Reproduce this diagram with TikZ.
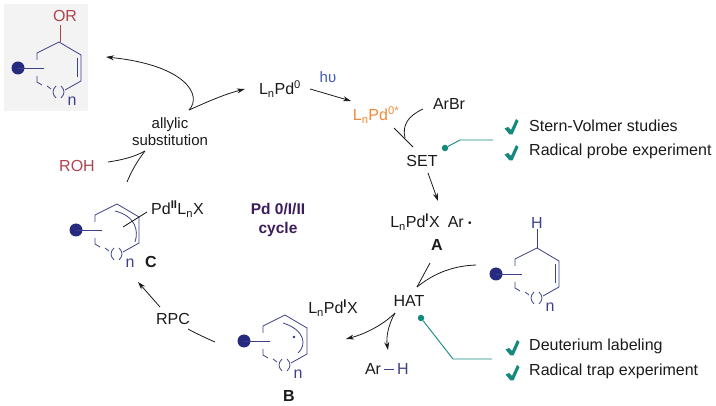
\documentclass[tikz,border=0pt]{standalone}
\usepackage{fontspec}
\setmainfont{Liberation Sans}
\usepackage{xcolor}
\usetikzlibrary{arrows.meta, positioning, calc}
\definecolor{CInk}{HTML}{1A1A1A}
\definecolor{CRing}{HTML}{3D4088}
\definecolor{CDot}{HTML}{262B80}
\definecolor{CRed}{HTML}{AE4450}
\definecolor{COrange}{HTML}{F0893A}
\definecolor{CBlue}{HTML}{4058BE}
\definecolor{CTeal}{HTML}{16897F}
\definecolor{CPurple}{HTML}{3C1C5E}
\definecolor{CPanel}{HTML}{F3F3F3}
\newcommand{\lnpd}{L\textsubscript{n}Pd}
\newcommand{\ox}[1]{\textsuperscript{\textbf{#1}}}

\begin{document}
\begin{tikzpicture}[
  x=1pt, y=-1pt,
  font=\fontsize{16}{19}\selectfont,
  lbl/.style={text=CInk, inner sep=0pt},
  tag/.style={lbl, font=\fontsize{16}{19}\selectfont\bfseries},
  chem/.style={lbl, text=CRing},
  bond/.style={draw=CRing, line width=0.8pt},
  flow/.style={-{Stealth[length=8pt,width=5pt]}, draw=CInk, line width=0.8pt},
  merge/.style={draw=CInk, line width=0.8pt},
  probe/.style={draw=CTeal, line width=0.9pt},
  probedot/.style={circle, fill=CTeal, inner sep=0pt, minimum size=6.5pt},
  pics/ringbase/.style={code={
    \fill[CDot] (0,0) circle (6.5);
    \draw[bond] (0,0) -- (26,0);
    \draw[bond] (19,-8) -- (19,-15) -- (41,-26) -- (63,-13) -- (63,13) -- (47,22);
    \draw[bond] (19,8) -- (19,14) -- (24,17);
    \draw[bond] (29,18) -- (33,21);
    \draw[bond] (38,18) .. controls (34,22) and (34,26) .. (38,30);
    \draw[bond] (43,18) .. controls (47,22) and (47,26) .. (43,30);
    \node[chem] (-n) at (54,33) {n};
  }},
  pics/tick/.style={code={
    \fill[CTeal] (-7.5,1.5) -- (-4,0) -- (-1,3) -- (4,-8) -- (6.5,-6) -- (0.5,7.5) -- (-2.5,7.5) -- cycle;
  }},
]
\useasboundingbox (0,0) rectangle (716,406);

% product panel
\fill[CPanel] (4,4) rectangle (88,111);
\pic (prod) at (18,68) {ringbase};
\draw[bond] (77,58) -- (77,77);
\node[lbl, text=CRed] (or) at (65,16) {OR};
\draw[draw=CRed, line width=0.8pt] (60,25) -- (60,42);

% palladium species on the cycle
\node[lbl] (pd0) at (280,89) {\lnpd\textsuperscript{0}};
\node[lbl, text=CBlue, font=\fontsize{15}{17}\selectfont] (hv) at (328,77) {hυ};
\node[lbl, text=COrange] (pdstar) at (376,115) {\lnpd\textsuperscript{0*}};
\node[lbl] (arbr) at (449,104) {ArBr};
\node[lbl] (set) at (422,161) {SET};
\node[lbl] (pda) at (431,222) {\lnpd\ox{I}X\hspace{8pt}Ar \raisebox{1.5pt}{\fontsize{10}{10}\selectfont\textbullet}};
\node[tag] (a) at (437,245) {A};
\node[lbl] (hat) at (409,301) {HAT};
\node[lbl] (pdb) at (333,308) {\lnpd\ox{I}X};
\node[lbl] (arh) at (373,369) {Ar};
\node[chem] (h) at (403,369) {H};
\draw[bond] (arh.east) ++(3,0) -- ([xshift=-3pt]h.west);
\node[lbl, align=center, font=\fontsize{15}{17}\selectfont] (allyl) at (170,131.5) {allylic\\substitution};
\node[lbl, text=CRed] (roh) at (77,166) {ROH};
\node[lbl, align=center, text=CPurple, font=\fontsize{15.5}{19}\selectfont\bfseries] (cyc) at (278,219.5) {Pd 0/I/II\\cycle};
\node[lbl] (rpc) at (173,319) {RPC};

% substrate
\pic (sub) at (496,274) {ringbase};
\draw[bond] (555,264) -- (555,283);
\node[chem] (subh) at (537,223) {H};
\draw[bond] (subh.south) -- (537,248);

% radical B
\pic (ringb) at (244,341) {ringbase};
\draw[bond] (283,323) .. controls (305,330) and (307,345) .. (298,353);
\fill[CDot] (294,337) circle (1.4);
\node[tag] (b) at (289,396) {B};

% complex C
\pic (ringc) at (76,230) {ringbase};
\draw[bond] (115,211) .. controls (135,216) and (139,230) .. (135,242);
\draw[merge] (123,227) -- (147,212);
\node[lbl, anchor=west] (pdc) at (151,209) {Pd\ox{II}L\textsubscript{n}X};
\node[tag] (c) at (151,262) {C};

% junctions of the arrows
\coordinate (jallyl) at (189,110);
\coordinate (jset) at (405,138);
\coordinate (jhat) at (417,287);
\coordinate (jsub) at (145,151);
\coordinate (jb) at (395,313);

% arrows round the cycle
\draw[flow] (jallyl) .. controls (203,95) and (185,65) .. (106,57);
\draw[flow] (jallyl) .. controls (205,103) and (222,95) .. ([xshift=-14pt]pd0.west);
\draw[flow] ([xshift=9pt]pd0.east) -- (351,101);
\draw[merge] (394,128) -- (413,147);
\draw[merge] (423,109) .. controls (408,116) and (402,125) .. (jset);
\draw[flow] (428,173) -- (438,201);
\draw[merge] (430,263) -- (jhat);
\draw[merge] (476,265) .. controls (450,266) and (432,275) .. (jhat);
\draw[flow] (jb) .. controls (383,325) and (365,334) .. (346,339);
\draw[flow] (jb) .. controls (388,325) and (386,338) .. (388,350);
\draw[merge] (215,342) .. controls (206,338) and (197,334) .. (188,329);
\draw[flow] (160,307) -- (138,282);
\draw[merge] (127,182) .. controls (132,170) and (138,160) .. (jsub);
\draw[merge] (108,162) .. controls (122,160) and (134,157) .. (jsub);

% evidence callouts
\node[probedot] (dotset) at (445,148) {};
\coordinate (kset) at (460,140);
\coordinate (eset) at (493,140);
\draw[probe] (dotset) -- (kset) -- (eset);
\node[probedot] (dothat) at (421,318) {};
\coordinate (khat) at (453,359);
\coordinate (ehat) at (492,359);
\draw[probe] (dothat) -- (khat) -- (ehat);

\pic at (512,127) {tick};
\pic at (512,153) {tick};
\pic at (513,348) {tick};
\pic at (513,373) {tick};
\node[lbl, anchor=west] (ev1) at (529,126) {Stern-Volmer studies};
\node[lbl, anchor=west] (ev2) at (529,151) {Radical probe experiment};
\node[lbl, anchor=west] (ev3) at (529,346) {Deuterium labeling};
\node[lbl, anchor=west] (ev4) at (529,371) {Radical trap experiment};

\end{tikzpicture}
\end{document}
